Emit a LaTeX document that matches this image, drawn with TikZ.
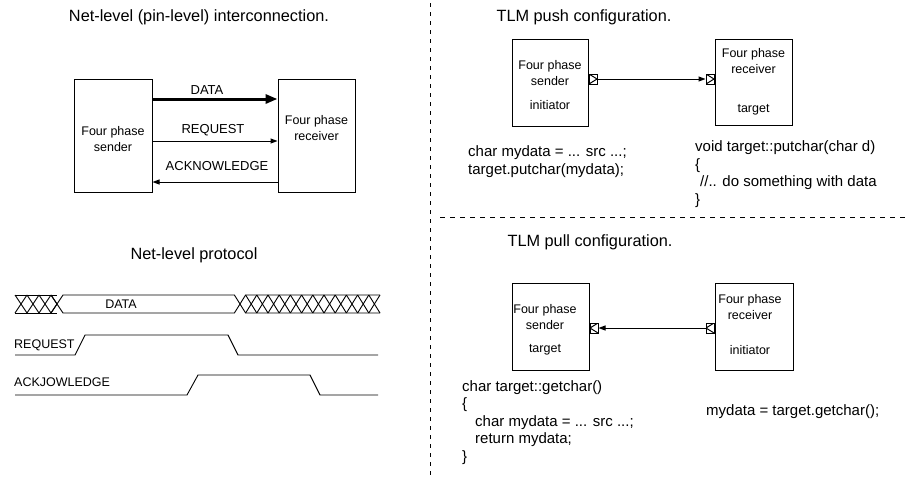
\documentclass[tikz,border=0pt]{standalone}
\usepackage{fontspec}
\setmainfont{Liberation Sans}
\usetikzlibrary{arrows.meta}
\tikzset{
  big/.style={font=\fontsize{16.3}{19}\selectfont, inner sep=0pt},
  code/.style={font=\fontsize{15}{17.6}\selectfont, inner sep=0pt, anchor=west, align=left},
  small/.style={font=\fontsize{12.5}{16}\selectfont, inner sep=0pt},
  lbl/.style={font=\fontsize{13}{15}\selectfont, inner sep=0pt},
  blk/.style={draw, line width=1pt, inner sep=0pt},
  sig/.style={line width=0.9pt},
  sep/.style={line width=1pt},
  thin/.style={line width=1pt, -{Triangle[length=7pt,width=5pt]}},
  port/.style={draw, line width=1pt, minimum width=8pt, minimum height=10pt, inner sep=0pt},
  portR/.style={port, path picture={\draw[line width=1pt] (path picture bounding box.north west) -- (path picture bounding box.east) -- (path picture bounding box.south west);}},
  portL/.style={port, path picture={\draw[line width=1pt] (path picture bounding box.north east) -- (path picture bounding box.west) -- (path picture bounding box.south east);}},
}
\begin{document}
\begin{tikzpicture}[x=1pt,y=-1pt]
\useasboundingbox[fill=white] (0,0) rectangle (908,477);

% separators
\coordinate (v1) at (430,3); \coordinate (v2) at (430,477);
\draw[sep, dash pattern=on 4pt off 5pt] (v1) -- (v2);
\coordinate (h1) at (440,217); \coordinate (h2) at (908,217);
\draw[sep, dash pattern=on 5pt off 5pt] (h1) -- (h2);

% ---------- Net-level interconnection ----------
\node[big] (t1) at (199,17) {Net-level (pin-level) interconnection.};
\node[blk, minimum width=78pt, minimum height=113pt] (snd) at (113,135.5) {};
\node[blk, minimum width=77pt, minimum height=113pt] (rcv) at (316.5,135.5) {};
\node[small, align=center] (sndt) at (113,139) {Four phase\\sender};
\node[small, align=center] (rcvt) at (316.5,128) {Four phase\\receiver};
\coordinate (d1) at (snd.east |- 0,99);
\coordinate (d2) at (rcv.west |- 0,99);
\draw[line width=3pt, -{Triangle[length=12pt,width=9pt]}] (d1) -- (d2);
\node[lbl] (dl) at (207,90) {DATA};
\coordinate (r1) at (snd.east |- 0,141);
\coordinate (r2) at (rcv.west |- 0,141);
\draw[thin] (r1) -- (r2);
\node[lbl] (rl) at (213,130) {REQUEST};
\coordinate (a1) at (rcv.west |- 0,182);
\coordinate (a2) at (snd.east |- 0,182);
\draw[thin] (a1) -- (a2);
\node[lbl] (al) at (217,166) {ACKNOWLEDGE};

% ---------- Net-level protocol ----------
\node[big] (t2) at (194,255) {Net-level protocol};
% left hatched part
\draw[sig] (15,295) -- (57,295);
\draw[sig] (15,313) -- (57,313);
\foreach \c in {21,33,45} {
  \draw[sig] (\c-6,295) -- (\c+6,313);
  \draw[sig] (\c-6,313) -- (\c+6,295);
}
\draw[sig] (51,295) -- (57,304) -- (51,313);
% open data part
\draw[sig] (51,313) -- (57,304) -- (63,295) -- (234.4,295) -- (240,304) -- (234.4,313) -- (63,313) -- (57,304);
\draw[sig] (51,295) -- (57,304);
\node[lbl, font=\fontsize{12.5}{15}\selectfont] (dd) at (121,304) {DATA};
% right hatched part
\draw[sig] (240,304) -- (245.6,295) -- (380,295);
\draw[sig] (240,304) -- (245.6,313) -- (380,313);
\foreach \i in {0,...,11} {
  \pgfmathsetmacro{\c}{245.6+11.2*\i}
  \draw[sig] (\c,295) -- (\c+11.2,313);
  \draw[sig] (\c,313) -- (\c+11.2,295);
}
% REQUEST waveform
\node[lbl, font=\fontsize{12.5}{15}\selectfont, anchor=west] (rq) at (14,345) {REQUEST};
\draw[sig] (15,355) -- (75,355) -- (85,335) -- (228,335) -- (238,355) -- (378,355);
% ACK waveform
\node[lbl, font=\fontsize{12.5}{15}\selectfont, anchor=west] (ak) at (14,382) {ACKJOWLEDGE};
\draw[sig] (15,395) -- (187,395) -- (198,375) -- (310,375) -- (320,395) -- (378,395);

% ---------- TLM push ----------
\node[big] (t3) at (584,17) {TLM push configuration.};
\node[blk, minimum width=76pt, minimum height=87pt] (ps) at (550,82.5) {};
\node[blk, minimum width=77pt, minimum height=86pt] (pr) at (753.5,82) {};
\node[small, align=center] (pst1) at (550,73) {Four phase\\sender};
\node[small] (pst2) at (550,105) {initiator};
\node[small, align=center] (prt1) at (753.5,61) {Four phase\\receiver};
\node[small] (prt2) at (753.5,110) {target};
\node[portR, anchor=west] (pp1) at (ps.east |- 0,79) {};
\node[portR, anchor=east] (pp2) at (pr.west |- 0,79) {};
\draw[thin] (pp1.east) -- (pp2.west);
\node[code] (c1) at (468,161.5) {char mydata = ... src ...;\\target.putchar(mydata);};
\node[code] (c2) at (695,174) {void target::putchar(char d)\\\{\\\hspace{5pt}//.. do something with data\\\}};

% ---------- TLM pull ----------
\node[big] (t4) at (590,242) {TLM pull configuration.};
\node[blk, minimum width=77pt, minimum height=87pt] (ls) at (550.5,326.5) {};
\node[blk, minimum width=78pt, minimum height=87pt] (lr) at (754,326.5) {};
\node[small, align=center] (lst1) at (545,317) {Four phase\\sender};
\node[small] (lst2) at (545,350) {target};
\node[small, align=center] (lrt1) at (750,307) {Four phase\\receiver};
\node[small] (lrt2) at (750,350) {initiator};
\node[portL, anchor=west] (lp1) at (ls.east |- 0,328) {};
\node[portL, anchor=east] (lp2) at (lr.west |- 0,328) {};
\draw[thin] (lp2.west) -- (lp1.east);
\node[code] (c3) at (462,422.5) {char target::getchar()\\\{\\\hspace{13pt}char mydata = ... src ...;\\\hspace{13pt}return mydata;\\\}};
\node[code] (c4) at (706,412) {mydata = target.getchar();};
\end{tikzpicture}
\end{document}
